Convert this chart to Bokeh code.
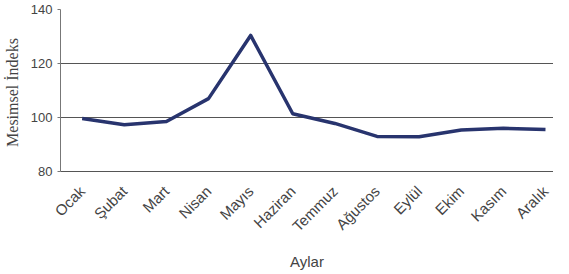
import math
from bokeh.plotting import figure
from bokeh.models import Range1d, FixedTicker
from bokeh.embed import file_html
from bokeh.resources import INLINE

months = ["Ocak", "Şubat", "Mart", "Nisan", "Mayıs", "Haziran", "Temmuz",
          "Ağustos", "Eylül", "Ekim", "Kasım", "Aralık"]
index_values = [99.6, 97.3, 98.5, 107.0, 130.4, 101.4, 97.8, 93.0, 92.9, 95.4, 96.0, 95.6]
y_ticks = [80, 100, 120, 140]
x_title = "Aylar"
y_title = "Mesimsel  İndeks"

xs = list(range(len(months)))

p = figure(width=553, height=272, output_backend="svg", toolbar_location=None,
           x_range=Range1d(-0.514, 11.19), y_range=Range1d(80, 140))
p.min_border_left = 52
p.min_border_right = 0
p.min_border_top = 9
p.min_border_bottom = 0
p.outline_line_color = None
p.background_fill_color = "white"

p.line(xs, index_values, line_color="#28346e", line_width=3.5, line_join="round")

# y axis
p.yaxis.ticker = FixedTicker(ticks=y_ticks)
p.yaxis.axis_label = y_title
p.yaxis.axis_label_text_font = "Liberation Serif"
p.yaxis.axis_label_text_font_style = "normal"
p.yaxis.axis_label_text_font_size = "16px"
p.yaxis.axis_label_text_color = "#444444"
p.yaxis.axis_label_standoff = 7
p.yaxis.major_label_text_font = "Liberation Sans"
p.yaxis.major_label_text_font_size = "13px"
p.yaxis.major_label_text_color = "#444444"
p.yaxis.axis_line_color = "#777777"
p.yaxis.major_tick_line_color = "#777777"
p.yaxis.major_tick_out = 3
p.yaxis.major_tick_in = 0
p.yaxis.minor_tick_line_color = None

# x axis
p.xaxis.ticker = FixedTicker(ticks=xs)
p.xaxis.major_label_overrides = {i: m for i, m in enumerate(months)}
p.xaxis.major_label_orientation = math.pi / 4
p.xaxis.major_label_text_font = "Liberation Sans"
p.xaxis.major_label_text_font_size = "15px"
p.xaxis.major_label_text_color = "#444444"
p.xaxis.major_label_standoff = 11
p.xaxis.axis_label = x_title
p.xaxis.axis_label_text_font = "Liberation Sans"
p.xaxis.axis_label_text_font_style = "normal"
p.xaxis.axis_label_text_font_size = "15px"
p.xaxis.axis_label_text_color = "#444444"
p.xaxis.axis_label_standoff = 9
p.xaxis.axis_line_color = "#555555"
p.xaxis.major_tick_line_color = None
p.xaxis.minor_tick_line_color = None

p.xgrid.grid_line_color = None
p.ygrid.grid_line_color = "#555555"
p.ygrid.grid_line_width = 1

open("out.html", "w").write(file_html(p, INLINE))
